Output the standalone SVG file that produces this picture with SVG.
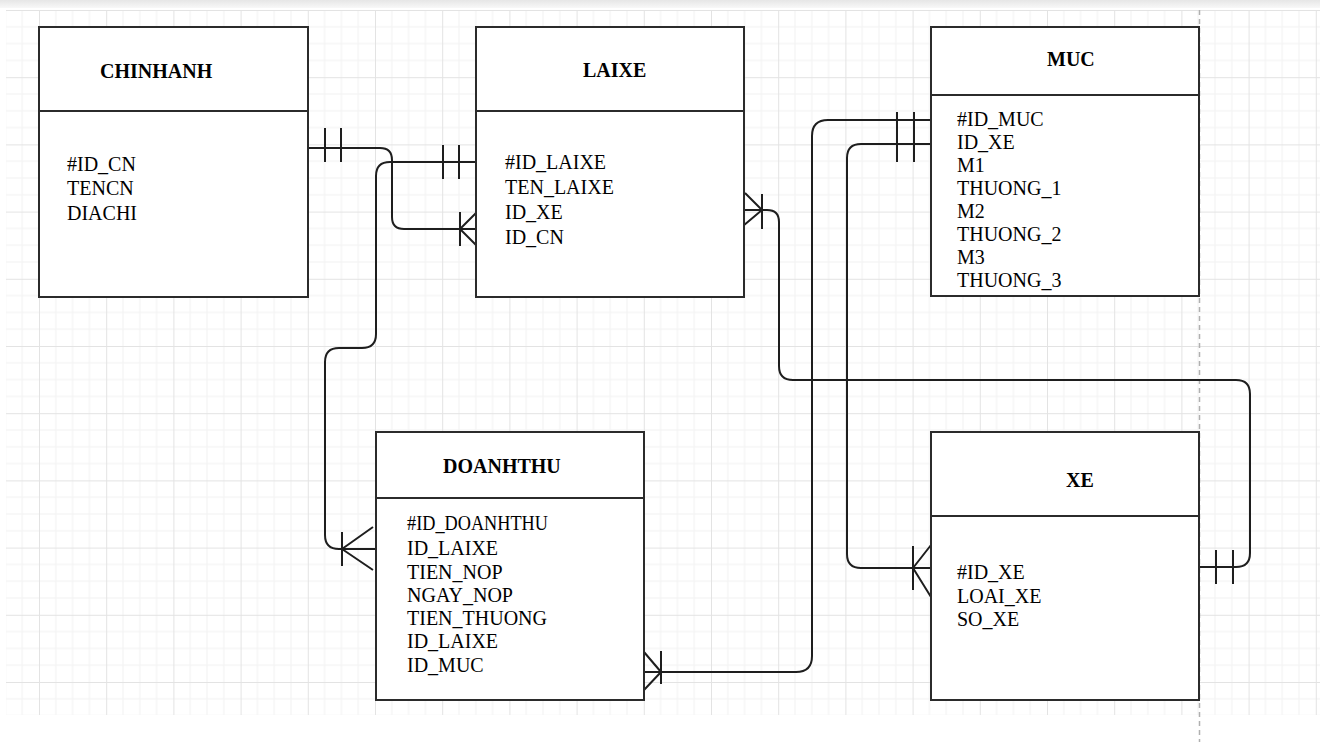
<svg xmlns="http://www.w3.org/2000/svg" width="1320" height="742" viewBox="0 0 1320 742">
  <style>
    .box { fill: #ffffff; stroke: #2b2b2b; stroke-width: 2; }
    .sep { stroke: #2b2b2b; stroke-width: 2; }
    .title { font-family: "Liberation Serif", "Times New Roman", serif; font-size: 20px; font-weight: bold; fill: #000; }
    .attr { font-family: "Liberation Serif", "Times New Roman", serif; font-size: 20px; fill: #000; }
    .conn { fill: none; stroke: #1e1e1e; stroke-width: 2; }
    .mark { fill: none; stroke: #1e1e1e; stroke-width: 2; }
  </style>
  <defs>
    <pattern id="grid" patternUnits="userSpaceOnUse" x="39" y="10" width="67.2" height="67.2">
      <path d="M16.8,0 V67.2 M33.6,0 V67.2 M50.4,0 V67.2 M0,16.8 H67.2 M0,33.6 H67.2 M0,50.4 H67.2" stroke="#f2f2f2" stroke-width="1" fill="none"/>
      <path d="M0.5,0 V67.2 M0,0.5 H67.2" stroke="#e3e3e3" stroke-width="1" fill="none"/>
    </pattern>
    <linearGradient id="topband" x1="0" y1="0" x2="0" y2="1">
      <stop offset="0" stop-color="#e6e6e6"/>
      <stop offset="1" stop-color="#f8f8f8"/>
    </linearGradient>
  </defs>

  <rect x="0" y="0" width="1320" height="742" fill="#ffffff"/>
  <rect x="0" y="0" width="1320" height="8" fill="url(#topband)"/>
  <rect x="6" y="10" width="1314" height="705" fill="url(#grid)"/>
  <line x1="1199.5" y1="10" x2="1199.5" y2="742" stroke="#b0b0b0" stroke-width="1.5" stroke-dasharray="5 4"/>

  <g id="connectors">
    <!-- CHINHANH - LAIXE -->
    <path class="conn" d="M308,148 H380 Q392,148 392,160 V217 Q392,229 404,229 H476"/>
    <path class="mark" d="M325,128 V162 M341,128 V162"/>
    <path class="mark" d="M460,212 V246 M460,229 L476,213 M460,229 L476,245"/>
    <!-- LAIXE - DOANHTHU -->
    <path class="conn" d="M476,162 H390 Q376,162 376,176 V334 Q376,348 362,348 H339 Q325,348 325,362 V535 Q325,549 339,549 H376"/>
    <path class="mark" d="M443,145 V179 M459,145 V179"/>
    <path class="mark" d="M342,532 V566 M342,549 L373,527 M342,549 L373,570"/>
    <!-- LAIXE - XE -->
    <path class="conn" d="M744,210 H767 Q779,210 779,222 V366 Q779,380 793,380 H1236 Q1250,380 1250,394 V553 Q1250,567 1236,567 H1199"/>
    <path class="mark" d="M762,194 V229 M762,210 L745,193 M762,210 L737,231"/>
    <path class="mark" d="M1216,550 V584 M1233,550 V584"/>
    <!-- MUC - DOANHTHU -->
    <path class="conn" d="M931,120 H828 Q812,120 812,136 V656 Q812,672 796,672 H644"/>
    <path class="mark" d="M897,112 V162 M914,112 V162"/>
    <path class="mark" d="M661,651 V684 M661,672 L644,652 M661,672 L644,690"/>
    <!-- MUC - XE -->
    <path class="conn" d="M931,144 H861 Q847,144 847,158 V554 Q847,568 861,568 H931"/>
    <path class="mark" d="M913,546 V590 M913,568 L931,545 M913,568 L931,597"/>
  </g>

  <g id="CHINHANH">
    <rect class="box" x="39" y="27" width="269" height="270"/>
    <line class="sep" x1="39" y1="111" x2="308" y2="111"/>
    <text class="title" x="100" y="78">CHINHANH</text>
    <text class="attr" x="67" y="171">#ID_CN</text>
    <text class="attr" x="67" y="195">TENCN</text>
    <text class="attr" x="67" y="220">DIACHI</text>
  </g>

  <g id="LAIXE">
    <rect class="box" x="476" y="27" width="268" height="270"/>
    <line class="sep" x1="476" y1="111" x2="744" y2="111"/>
    <text class="title" x="583" y="77">LAIXE</text>
    <text class="attr" x="505" y="169">#ID_LAIXE</text>
    <text class="attr" x="505" y="194">TEN_LAIXE</text>
    <text class="attr" x="505" y="219">ID_XE</text>
    <text class="attr" x="505" y="244">ID_CN</text>
  </g>

  <g id="MUC">
    <rect class="box" x="931" y="27" width="268" height="269"/>
    <line class="sep" x1="931" y1="95" x2="1199" y2="95"/>
    <text class="title" x="1047" y="66">MUC</text>
    <text class="attr" x="957" y="126">#ID_MUC</text>
    <text class="attr" x="957" y="149">ID_XE</text>
    <text class="attr" x="957" y="172">M1</text>
    <text class="attr" x="957" y="195">THUONG_1</text>
    <text class="attr" x="957" y="218">M2</text>
    <text class="attr" x="957" y="241">THUONG_2</text>
    <text class="attr" x="957" y="264">M3</text>
    <text class="attr" x="957" y="287">THUONG_3</text>
  </g>

  <g id="DOANHTHU">
    <rect class="box" x="376" y="432" width="268" height="268"/>
    <line class="sep" x1="376" y1="498" x2="644" y2="498"/>
    <text class="title" x="443" y="473">DOANHTHU</text>
    <text class="attr" x="407" y="530" textLength="141" lengthAdjust="spacingAndGlyphs">#ID_DOANHTHU</text>
    <text class="attr" x="407" y="555">ID_LAIXE</text>
    <text class="attr" x="407" y="579">TIEN_NOP</text>
    <text class="attr" x="407" y="602">NGAY_NOP</text>
    <text class="attr" x="407" y="625">TIEN_THUONG</text>
    <text class="attr" x="407" y="648">ID_LAIXE</text>
    <text class="attr" x="407" y="672">ID_MUC</text>
  </g>

  <g id="XE">
    <rect class="box" x="931" y="432" width="268" height="268"/>
    <line class="sep" x1="931" y1="516" x2="1199" y2="516"/>
    <text class="title" x="1066" y="487">XE</text>
    <text class="attr" x="957" y="579">#ID_XE</text>
    <text class="attr" x="957" y="603">LOAI_XE</text>
    <text class="attr" x="957" y="626">SO_XE</text>
  </g>
</svg>
